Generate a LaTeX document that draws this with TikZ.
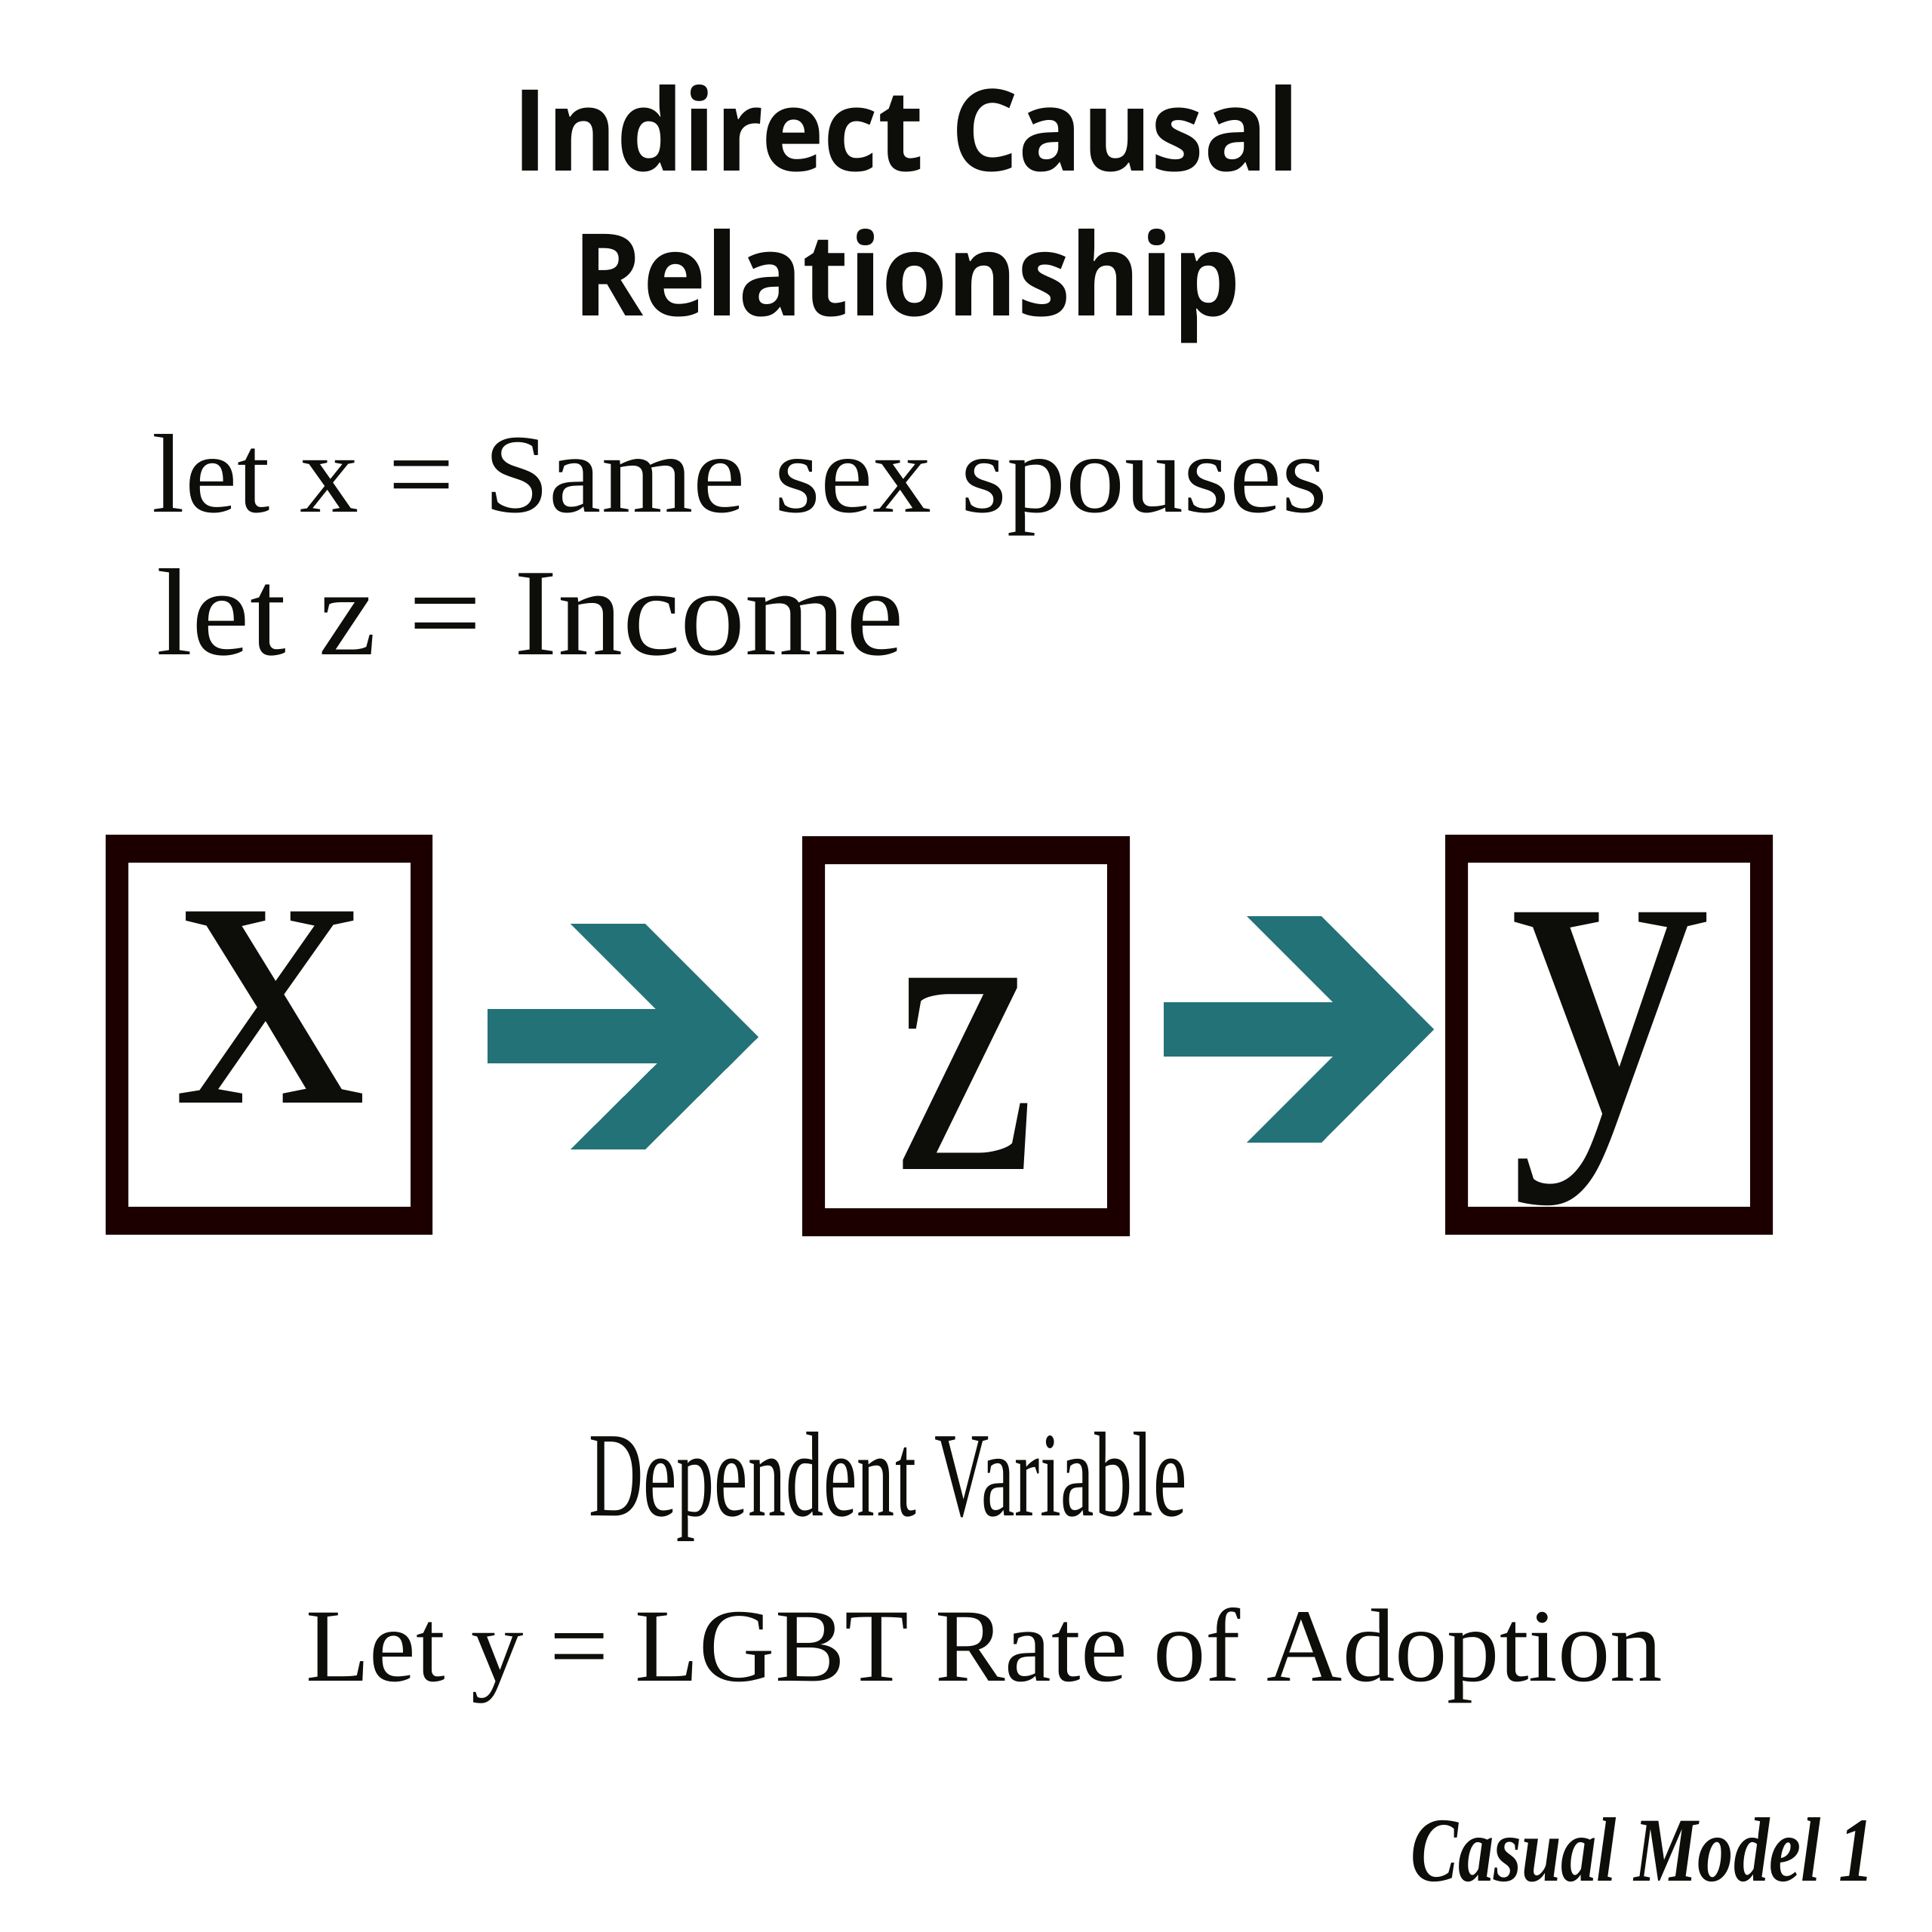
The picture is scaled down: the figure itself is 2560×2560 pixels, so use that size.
\documentclass[tikz,border=0pt]{standalone}
\usepackage{fontspec}
\setmainfont{Liberation Serif}
\newfontfamily\titlefont{Open Sans}
\usepackage{graphicx}
\definecolor{ink}{HTML}{0D0E0A}
\definecolor{boxc}{HTML}{1C0000}
\definecolor{arrowc}{HTML}{237278}
\begin{document}
\begin{tikzpicture}[x=0.01cm,y=-0.01cm,
  lbl/.style={inner sep=0pt,outer sep=0pt,text=ink,anchor=base west},
  glyph/.style={inner sep=0pt,outer sep=0pt,text=ink,anchor=north west},
  frame/.style={fill=boxc,even odd rule},
  chev/.style={fill=arrowc}]
\useasboundingbox[fill=white] (0,0) rectangle (2560,2560);

% title
\node[lbl] (t1) at (679,226) {\resizebox{10.43cm}{1.14cm}{\titlefont\bfseries Indirect Causal}};
\node[lbl] (t2) at (759,418) {\resizebox{8.84cm}{1.15cm}{\titlefont\bfseries Relationship}};

% definitions
\node[lbl] (d1) at (202,678) {\resizebox{15.56cm}{1.03cm}{let x = Same sex spouses}};
\node[lbl] (d2) at (207,867) {\resizebox{9.90cm}{1.14cm}{let z = Income}};

% boxes
\fill[frame] (140,1106) rectangle (573,1636) (170,1143) rectangle (544,1599);
\fill[frame] (1063,1108) rectangle (1497,1638) (1093,1145) rectangle (1467,1601);
\fill[frame] (1915,1106) rectangle (2349,1636) (1945,1143) rectangle (2319,1599);
\node[inner sep=0pt] (bx) at (356.5,1371) {};
\node[inner sep=0pt] (bz) at (1280,1373) {};
\node[inner sep=0pt] (by) at (2132,1371) {};

% letters
\node[glyph] (lx) at (233,1208) {\resizebox{2.53cm}{2.53cm}{x}};
\node[glyph] (lz) at (1185,1296) {\resizebox{1.88cm}{2.53cm}{z}};
\node[glyph] (ly) at (2000,1209) {\resizebox*{2.63cm}{3.88cm}{y}};

% arrows
\fill[chev] (646,1337) rectangle (920,1409);
\fill[chev] (756,1224) -- (855,1224) -- (1005,1374) -- (855,1523) -- (756,1523) -- (906,1374) -- cycle;
\fill[chev] (1542,1328) rectangle (1815,1400);
\fill[chev] (1652,1214) -- (1751,1214) -- (1900,1364) -- (1751,1514) -- (1652,1514) -- (1802,1364) -- cycle;

% dependent variable
\node[lbl] (dv) at (780,2008) {\resizebox{7.92cm}{1.11cm}{Dependent Variable}};
\node[lbl] (d3) at (405,2227) {\resizebox{17.97cm}{0.97cm}{Let y = LGBT Rate of Adoption}};

% signature
\node[lbl] (sig) at (1869,2492) {\resizebox{6.14cm}{0.84cm}{\bfseries\itshape Casual Model 1}};
\end{tikzpicture}
\end{document}
